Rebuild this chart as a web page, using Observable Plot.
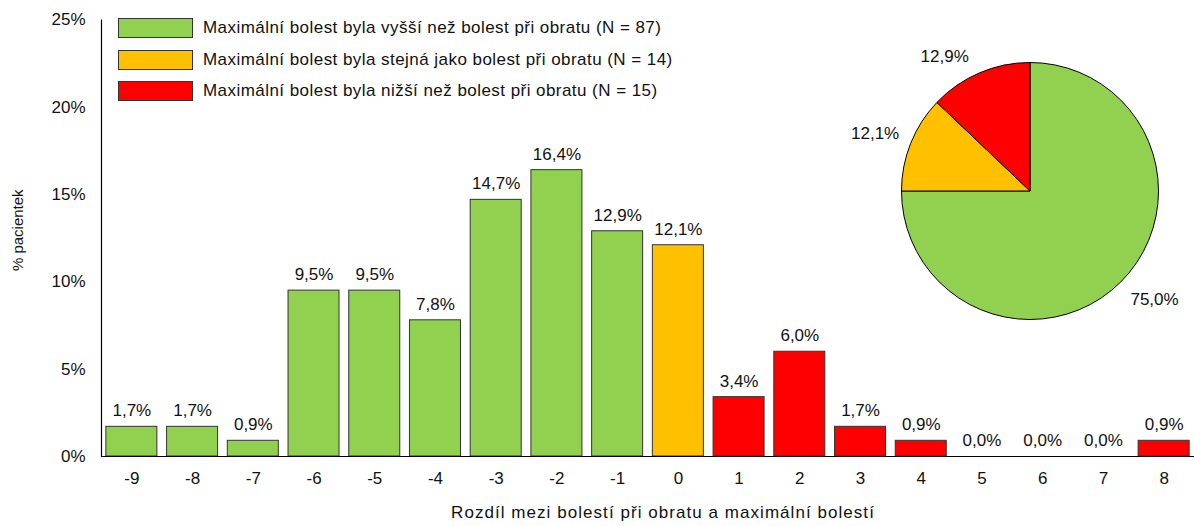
<!DOCTYPE html>
<html>
<head>
<meta charset="utf-8">
<script src="https://cdn.jsdelivr.net/npm/d3@7"></script>
<script src="https://cdn.jsdelivr.net/npm/@observablehq/plot@0.6"></script>
<style>
  body { margin: 0; background: #fff; }
  #wrap { position: relative; width: 1194px; height: 526px; font-family: "Liberation Sans", Arial, sans-serif; color: #111; }
  #wrap svg { font-family: "Liberation Sans", Arial, sans-serif; }
  #legend { position: absolute; left: 118px; top: 18px; }
  .row { display: flex; align-items: center; height: 20px; margin-bottom: 11.5px; font-size: 17px; letter-spacing: 0.45px; white-space: nowrap; }
  .sw { width: 73px; height: 18px; border: 1px solid #333; margin-right: 10px; }
  #pie { position: absolute; left: 840px; top: 30px; }
</style>
</head>
<body>
<div id="wrap"></div>
<script>
const categories = ["-9","-8","-7","-6","-5","-4","-3","-2","-1","0","1","2","3","4","5","6","7","8"];
const values = [1.7, 1.7, 0.9, 9.5, 9.5, 7.8, 14.7, 16.4, 12.9, 12.1, 3.4, 6.0, 1.7, 0.9, 0.0, 0.0, 0.0, 0.9];
const groupOf = ["higher","higher","higher","higher","higher","higher","higher","higher","higher","same","lower","lower","lower","lower","lower","lower","lower","lower"];
const groups = ["higher", "same", "lower"];
const groupLabels = [
  "Maximální bolest byla vyšší než bolest při obratu (N = 87)",
  "Maximální bolest byla stejná jako bolest při obratu (N = 14)",
  "Maximální bolest byla nižší než bolest při obratu (N = 15)"
];
const groupColors = ["#92D050", "#FFC000", "#FF0000"];
const pieShares = [75.0, 12.1, 12.9];
const yTicks = [0, 5, 10, 15, 20, 25];
const xTitle = "Rozdíl mezi bolestí při obratu a maximální bolestí";
const yTitle = "% pacientek";

const fmt = v => v.toFixed(1).replace(".", ",") + "%";
const data = categories.map((c, i) => ({cat: c, value: values[i], group: groupOf[i]}));

const wrap = document.getElementById("wrap");

const chart = Plot.plot({
  width: 1194,
  height: 526,
  marginLeft: 101,
  marginRight: 0,
  marginTop: 19.5,
  marginBottom: 70,
  style: {fontSize: "15px", color: "#111", background: "transparent"},
  x: {type: "band", domain: categories, paddingInner: 0.16, paddingOuter: 0.08, round: false, axis: null},
  y: {domain: [0, 25], axis: null},
  color: {domain: groups, range: groupColors},
  marks: [
    Plot.barY(data, {x: "cat", y: "value", fill: "group", stroke: "#333", strokeWidth: 1}),
    Plot.text(data, {x: "cat", y: "value", text: d => fmt(d.value), dy: -16, fontSize: 17, fill: "#111"}),
    Plot.axisX({tickSize: 0, tickPadding: 15, fontSize: 17, label: null}),
    Plot.axisY({ticks: yTicks, tickSize: 0, tickPadding: 16, tickFormat: d => d + "%", fontSize: 17, label: null}),
    Plot.ruleY([0], {stroke: "#000", strokeWidth: 1.2}),
    Plot.frame({anchor: "left", stroke: "#000", strokeWidth: 1.2}),
    Plot.text([xTitle], {frameAnchor: "bottom", dx: 15, dy: 61, fontSize: 17, fill: "#111"}),
    Plot.text([yTitle], {frameAnchor: "left", textAnchor: "middle", rotate: -90, dx: -83, dy: -8, fontSize: 15, fill: "#111"})
  ]
});
d3.select(chart).selectAll("text")
  .filter(function () { return this.textContent === xTitle; })
  .style("letter-spacing", "1.05px");
wrap.appendChild(chart);

// legend
const legend = document.createElement("div");
legend.id = "legend";
groups.forEach((g, i) => {
  const row = document.createElement("div");
  row.className = "row";
  const sw = document.createElement("div");
  sw.className = "sw";
  sw.style.background = groupColors[i];
  const t = document.createElement("span");
  t.textContent = groupLabels[i];
  row.appendChild(sw);
  row.appendChild(t);
  legend.appendChild(row);
});
wrap.appendChild(legend);

// pie
const arcs = d3.pie().sort(null).value(d => d.share)(groups.map((g, i) => ({group: g, share: pieShares[i]})));
const pieData = arcs.map(a => {
  const mid = (a.startAngle + a.endAngle) / 2;
  const r = 1.1;
  return {group: a.data.group, share: a.data.share, start: a.startAngle, end: a.endAngle,
          lx: r * Math.sin(mid), ly: r * Math.cos(mid)};
});
const pieLabel = (filter, textAnchor, lineAnchor, dx = 0, dy = 0) =>
  Plot.text(pieData.filter(filter), {x: "lx", y: "ly", text: d => fmt(d.share), textAnchor, lineAnchor, dx, dy, fontSize: 17, fill: "#111"});

const pie = Plot.plot({
  width: 354,
  height: 300,
  margin: 0,
  style: {fontSize: "15px", background: "transparent"},
  x: {domain: [-1, 1], range: [61.5, 318.5], axis: null},
  y: {domain: [-1, 1], range: [289.5, 32.5], axis: null},
  color: {domain: groups, range: groupColors},
  marks: [
    (index, scales) => {
      const cx = scales.x(0), cy = scales.y(0), R = scales.x(1) - scales.x(0);
      const arc = d3.arc().innerRadius(0).outerRadius(R);
      const g = d3.create("svg:g").attr("transform", `translate(${cx},${cy})`);
      g.selectAll("path").data(pieData).join("path")
        .attr("d", d => arc({startAngle: d.start, endAngle: d.end}))
        .attr("fill", d => scales.color(d.group))
        .attr("stroke", "#000").attr("stroke-width", 1);
      return g.node();
    },
    pieLabel(d => d.lx < 0 && d.ly >= 0 && d.ly > 0.8, "end", "bottom", -6),
    pieLabel(d => d.lx < 0 && d.ly >= 0 && d.ly <= 0.8, "end", "bottom"),
    pieLabel(d => d.lx >= 0 && d.ly < 0, "start", "top", 0, 1),
    pieLabel(d => d.lx < 0 && d.ly < 0, "end", "top"),
    pieLabel(d => d.lx >= 0 && d.ly >= 0, "start", "bottom")
  ]
});
pie.id = "pie";
wrap.appendChild(pie);
</script>
</body>
</html>
